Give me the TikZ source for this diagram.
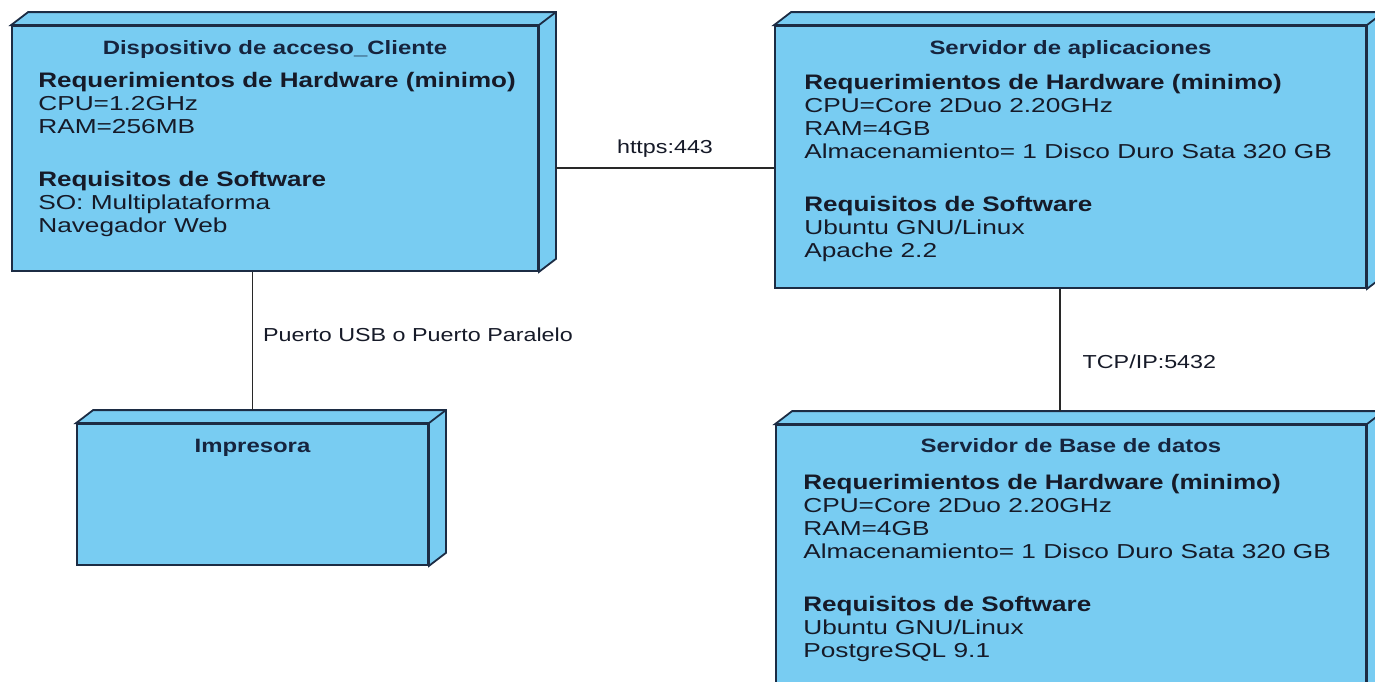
\documentclass[tikz,border=0pt]{standalone}
\usepackage{fontspec}
\setmainfont{Liberation Sans}[FakeStretch=1.24]
\newfontfamily\bodyfont{Liberation Sans}[FakeStretch=1.30]
\usetikzlibrary{calc}

\definecolor{nodefill}{RGB}{120,204,242}
\definecolor{nodeline}{RGB}{28,44,68}
\definecolor{titletext}{RGB}{22,36,62}
\definecolor{bodytext}{RGB}{22,26,40}
\definecolor{connline}{RGB}{40,40,40}

% bold heading inside a node's text block
\newcommand\hd[1]{{\rmfamily\fontsize{21}{23}\selectfont\bfseries #1}}

\tikzset{
  face/.style={fill=nodefill, draw=nodeline, line width=1.8pt, line join=miter},
  front/.style={face, rectangle, inner sep=0pt},
  nodetitle/.style={anchor=base, inner sep=0pt, text=titletext,
    font=\fontsize{19.3}{22}\selectfont\bfseries},
  body/.style={anchor=base west, inner sep=0pt, align=left, text=bodytext,
    font=\bodyfont\fontsize{20.2}{23}\selectfont},
  conn/.style={draw=connline, line width=1.3pt},
  connlabel/.style={inner sep=0pt, text=bodytext, font=\fontsize{18.8}{22}\selectfont},
}

\begin{document}
\begin{tikzpicture}[x=1pt, y=-1pt]
\useasboundingbox (0,0) rectangle (1375,681);
\fill[white] (0,0) rectangle (1375,681);

% front faces of the four deployment nodes
\node[front, minimum width=526, minimum height=245] (client)  at (275,148.5) {};
\node[front, minimum width=351, minimum height=141] (printer) at (252.5,494.5) {};
\node[front, minimum width=591, minimum height=262] (app)     at (1070.5,157) {};
\node[front, minimum width=590, minimum height=275] (db)      at (1071,562.5) {};

% top and right faces giving the 3D box look
\foreach \n in {client,printer,app,db} {
  \path[face] (\n.north west) -- ++(17,-13) -- ([shift={(17,-13)}]\n.north east)
    -- ([shift={(17,-13)}]\n.south east) -- (\n.south east) -- (\n.north east) -- cycle;
  \draw[face, fill=none] (\n.north east) -- ++(17,-13);
}

% titles
\node[nodetitle] (clientTitle)  at ([shift={(0,29)}]client.north)  {Dispositivo de acceso\_Cliente};
\node[nodetitle] (printerTitle) at ([shift={(0,29)}]printer.north) {Impresora};
\node[nodetitle] (appTitle)     at ([shift={(0,29)}]app.north)     {Servidor de aplicaciones};
\node[nodetitle] (dbTitle)      at ([shift={(0,28)}]db.north)      {Servidor de Base de datos};

% contents (anchored on the baseline of the last line)
\node[body] (clientText) at ([shift={(27,207)}]client.north west) {%
  \hd{Requerimientos de Hardware (minimo)}\\
  CPU=1.2GHz\\
  RAM=256MB\\[30pt]
  \hd{Requisitos de Software}\\
  SO: Multiplataforma\\
  Navegador Web};

\node[body] (appText) at ([shift={(30,232)}]app.north west) {%
  \hd{Requerimientos de Hardware (minimo)}\\
  CPU=Core 2Duo 2.20GHz\\
  RAM=4GB\\
  Almacenamiento= 1 Disco Duro Sata 320 GB\\[30pt]
  \hd{Requisitos de Software}\\
  Ubuntu GNU/Linux\\
  Apache 2.2};

\node[body] (dbText) at ([shift={(28,233)}]db.north west) {%
  \hd{Requerimientos de Hardware (minimo)}\\
  CPU=Core 2Duo 2.20GHz\\
  RAM=4GB\\
  Almacenamiento= 1 Disco Duro Sata 320 GB\\[30pt]
  \hd{Requisitos de Software}\\
  Ubuntu GNU/Linux\\
  PostgreSQL 9.1};

% connectors
\coordinate (httpsStart) at ([shift={(17,19.5)}]client.east);
\draw[conn] (httpsStart) -- (httpsStart -| app.west)
  node[connlabel, midway, above=10pt] (httpsLabel) {https:443};

\coordinate (printerTop) at ([shift={(0,-13)}]printer.north);
\draw[conn] (printer.north |- client.south) -- (printerTop)
  node[connlabel, midway, anchor=base west, xshift=10pt] (usbLabel) {Puerto USB o Puerto Paralelo};

\coordinate (appLink) at ([xshift=-10.5pt]app.south);
\coordinate (dbTop) at ([shift={(0,-13)}]db.north);
\draw[conn] (appLink) -- (appLink |- dbTop)
  node[connlabel, midway, anchor=base west, shift={(22,18)}] (tcpLabel) {TCP/IP:5432};
\end{tikzpicture}
\end{document}
